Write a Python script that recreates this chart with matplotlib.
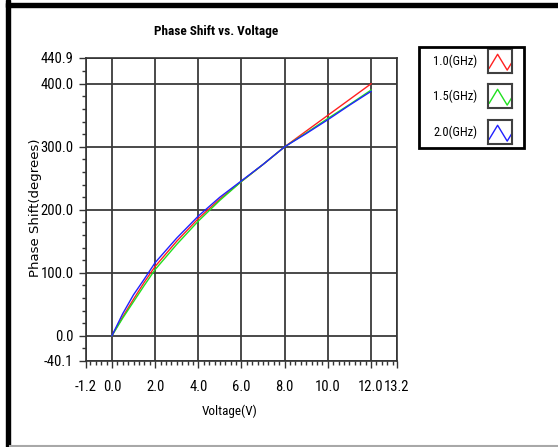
import matplotlib.pyplot as plt
from matplotlib.lines import Line2D
from matplotlib.patches import Rectangle
import numpy as np

# values
voltage = [0, 0.5, 1, 1.5, 2, 3, 4, 5, 6, 7, 8, 9, 10, 11, 12]
phase_1g = [0, 30, 58, 85, 110, 150, 186, 217, 245, 272, 300, 325, 350, 375, 400]
phase_15g = [0, 28, 54, 80, 105, 145, 182, 215, 245, 272, 300, 322, 345, 367, 390]
phase_2g = [0, 35, 65, 90, 116, 155, 190, 220, 246, 272, 300, 321, 343, 366, 388]

series_labels = ["1.0(GHz)", "1.5(GHz)", "2.0(GHz)"]
series_colors = ["#ff2020", "#20e020", "#2020ff"]

x_ticks = [-1.2, 0.0, 2.0, 4.0, 6.0, 8.0, 10.0, 12.0, 13.2]
y_ticks = [-40.1, 0.0, 100.0, 200.0, 300.0, 400.0, 440.9]

W, H = 558, 447
narrow = ['Roboto Condensed', 'DejaVu Sans']


def fx(px):
    return px / W


def fy(py):
    return 1 - py / H


fig = plt.figure(figsize=(W / 100, H / 100), dpi=100)
ax = fig.add_axes([fx(86), fy(361), fx(397) - fx(86), fy(58) - fy(361)])

for ys, c in zip([phase_1g, phase_15g, phase_2g], series_colors):
    ax.plot(voltage, ys, color=c, linewidth=1)

ax.set_xlim(-1.2, 13.2)
ax.set_ylim(-40.1, 440.9)
ax.set_xticks(x_ticks)
ax.set_xticklabels(["%.1f" % v for v in x_ticks], family=narrow, fontsize=10.5)
ax.set_yticks(y_ticks)
ax.set_yticklabels(["%.1f" % v for v in y_ticks], family=narrow, fontsize=10.5)
ax.set_xticks(np.arange(-1.0, 13.01, 0.25), minor=True)
ax.set_yticks(np.arange(-20, 421, 20), minor=True)
ax.tick_params(axis='both', which='major', length=5, width=1, color='#333333')
ax.tick_params(axis='x', which='major', pad=9)
ax.tick_params(axis='y', which='major', pad=4)
ax.tick_params(axis='both', which='minor', length=3, width=1, color='#333333')
ax.grid(True, which='major', color='#3a3a3a', linewidth=1.3)
ax.set_axisbelow(True)
for sp in ax.spines.values():
    sp.set_color('#333333')
    sp.set_linewidth(1.2)

fig.text(fx(216), fy(32), "Phase Shift vs. Voltage", ha='center', va='center',
         fontsize=9.5, fontweight='bold', family=narrow)
fig.text(fx(230), fy(411), "Voltage(V)", ha='center', va='center',
         fontsize=9.5, family=narrow)
fig.text(fx(36), fy(208), "Phase Shift(degrees)", ha='center', va='center',
         rotation=90, fontsize=9.5, family='DejaVu Sans')

# outer frame
fig.add_artist(Rectangle((fx(6), 0), fx(4), 1, color='black', transform=fig.transFigure))
fig.add_artist(Rectangle((fx(6), fy(7)), 1, fy(3) - fy(7), color='black', transform=fig.transFigure))
fig.add_artist(Line2D([fx(10), 1], [fy(445.5), fy(445.5)], color='#a8a8a8', linewidth=1.5))

# legend box
fig.add_artist(Rectangle((fx(419), fy(148)), fx(524) - fx(419), fy(47) - fy(148),
                         fill=False, edgecolor='black', linewidth=2, transform=fig.transFigure))
for i, (lab, c) in enumerate(zip(series_labels, series_colors)):
    cy = [61, 96, 132][i]
    fig.text(fx(477), fy(cy), lab, ha='right', va='center', fontsize=9, family=narrow)
    sw = fig.add_axes([fx(488), fy(cy + 12), fx(512) - fx(488), fy(cy - 12) - fy(cy + 12)])
    sw.plot([0.05, 0.4, 0.8, 0.97], [0.2, 0.78, 0.12, 0.4], color=c, linewidth=1)
    sw.set_xlim(0, 1)
    sw.set_ylim(0, 1)
    sw.set_xticks([])
    sw.set_yticks([])
    for sp in sw.spines.values():
        sp.set_color('#404040')
        sp.set_linewidth(1.5)

fig.savefig("out.png", dpi=100)
